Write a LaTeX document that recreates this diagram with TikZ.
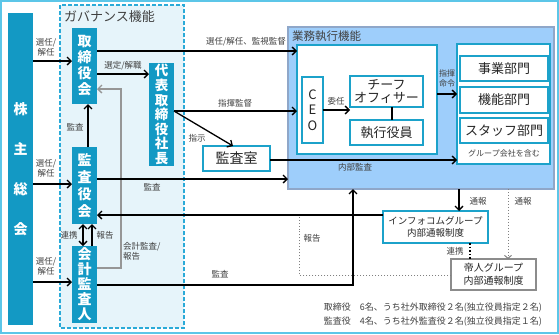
\documentclass[tikz,border=0pt]{standalone}
\usepackage{fontspec}
\setmainfont{Noto Sans CJK JP}
\usetikzlibrary{arrows.meta}
\definecolor{tealbox}{HTML}{1399C4}
\definecolor{tealline}{HTML}{1CA2CA}
\definecolor{frame}{HTML}{5CC6E8}
\definecolor{govfill}{HTML}{E6F4FA}
\definecolor{govline}{HTML}{2AAAD8}
\definecolor{bizfill}{HTML}{9ECEFB}
\definecolor{bizline}{HTML}{8FA7C9}
\definecolor{lbl}{HTML}{404040}
\definecolor{grayarrow}{HTML}{969696}
\newcommand\bx[7]{\node[#6, minimum width={(#4-#2)*1bp}, minimum height={(#5-#3)*1bp}] (#1) at ({(#2+#4)/2},{(#3+#5)/2}) {#7};}
\tikzset{
  every node/.style={inner sep=0pt, outer sep=0pt},
  tealfill/.style={fill=tealbox, text=white, font=\bfseries\fontsize{14bp}{16bp}\selectfont, align=center},
  whitebox/.style={fill=white, draw=tealline, line width=1.2bp},
  graybox/.style={fill=white, draw=gray!90, line width=1.2bp},
  lab/.style={text=lbl, font=\fontsize{8.5bp}{10bp}\selectfont, align=center},
  arr/.style={line width=1.3bp, -{Straight Barb[length=4bp,width=8bp,line width=1.3bp]}},
  dbl/.style={line width=1.3bp, {Straight Barb[length=4bp,width=8bp,line width=1.3bp]}-{Straight Barb[length=4bp,width=8bp,line width=1.3bp]}},
  garr/.style={line width=1.3bp, draw=grayarrow, -{Straight Barb[length=4bp,width=8bp,line width=1.3bp]}},
  dotg/.style={line width=1bp, draw=gray, dotted},
}
\begin{document}
\begin{tikzpicture}[x=1bp,y=-1bp]
\useasboundingbox (0,0) rectangle (559,334);
\draw[frame, line width=1.5bp] (1,1) rectangle (558,333);
% governance box
\draw[govline, fill=govfill, line width=1.2bp, dash pattern=on 4bp off 2bp] (60,5) rectangle (184,328);
\node[anchor=west, text=lbl, font=\fontsize{13bp}{15bp}\selectfont] (govt) at (64,17) {ガバナンス機能};
% business execution box
\bx{biz}{288}{27}{554}{189}{fill=bizfill, draw=bizline, line width=1.2bp}{}
\node[anchor=west, text=lbl, font=\fontsize{11.5bp}{13bp}\selectfont] (bizt) at (292,36) {業務執行機能};
\bx{wbox}{297}{45}{437}{154}{whitebox}{}
\bx{dbox}{457}{44}{550}{164}{whitebox}{}
% teal nodes
\bx{sh}{8}{13}{33}{325}{tealfill, font=\bfseries\fontsize{14bp}{40bp}\selectfont}{株\\主\\総\\会}
\bx{bod}{72}{28}{97}{104}{tealfill}{取\\締\\役\\会}
\bx{kan}{72}{147}{97}{224}{tealfill, font=\bfseries\fontsize{14bp}{17bp}\selectfont}{監\\査\\役\\会}
\bx{kai}{72}{246}{97}{323}{tealfill, font=\bfseries\fontsize{14bp}{15bp}\selectfont}{会\\計\\監\\査\\人}
\bx{pres}{149}{63}{174}{166}{tealfill, font=\bfseries\fontsize{13.5bp}{14.6bp}\selectfont}{代\\表\\取\\締\\役\\社\\長}
% white nodes
\bx{ceo}{302}{77}{323}{143}{whitebox, font=\fontsize{13bp}{15.5bp}\selectfont, align=center, text=black!85}{C\\E\\O}
\bx{chief}{350}{76}{423}{107}{whitebox, font=\fontsize{13bp}{12.5bp}\selectfont, align=center, text=black!85}{チーフ\\オフィサー}
\bx{exe}{350}{120}{423}{145}{whitebox, font=\fontsize{13bp}{15bp}\selectfont, text=black!85}{執行役員}
\bx{d1}{460}{56}{548}{81}{whitebox, font=\fontsize{13bp}{15bp}\selectfont, text=black!85}{事業部門}
\bx{d2}{460}{87}{548}{113}{whitebox, font=\fontsize{13bp}{15bp}\selectfont, text=black!85}{機能部門}
\bx{d3}{460}{118}{548}{143}{whitebox, font=\fontsize{13bp}{15bp}\selectfont, text=black!85}{スタッフ部門}
\node[lab, font=\fontsize{8bp}{10bp}\selectfont] (grp) at (504,153) {グループ会社を含む};
\bx{aud}{203}{146}{270}{171}{whitebox, font=\fontsize{14bp}{16bp}\selectfont, text=black!85}{監査室}
\bx{info}{383}{211}{488}{243}{whitebox, font=\fontsize{9.5bp}{12.5bp}\selectfont, align=center, text=black!85}{インフォコムグループ\\内部通報制度}
\bx{tei}{451}{259}{536}{290}{graybox, font=\fontsize{10bp}{13bp}\selectfont, align=center, text=black!85}{帝人グループ\\内部通報制度}
% connectors from shareholders
\draw[arr] (sh.east |- 0,61) -- (bod.west |- 0,61);
\node[lab] (l1) at (46,47) {選任/\\解任};
\draw[arr] (sh.east |- 0,184) -- (kan.west |- 0,184);
\node[lab] (l2) at (46,168) {選任/\\解任};
\draw[arr] (sh.east |- 0,282) -- (kai.west |- 0,282);
\node[lab] (l3) at (46,266) {選任/\\解任};
% governance internal
\draw[arr] (bod.east |- 0,51) -- (wbox.west |- 0,51);
\node[lab] (l4) at (246,42) {選任/解任、監視監督};
\draw[arr] (bod.east |- 0,74) -- (pres.west |- 0,74);
\node[lab] (l5) at (123,66) {選定/解職};
\draw[arr] (kan.north -| 88,0) -- (bod.south -| 88,0);
\node[lab] (l6) at (75,127) {監査};
\draw[dbl] (kan.south -| 83,0) -- (kai.north -| 83,0);
\node[lab] (l7) at (69,235) {連携};
\draw[arr] (kai.north -| 92,0) -- (kan.south -| 92,0);
\node[lab] (l8) at (105,235) {報告};
\draw[garr] (kai.east |- 0,268) -- (121,268) -- (121,89) -- (bod.east |- 0,89);
\node[lab, align=left, anchor=west] (l9) at (123,251) {会計監査/\\報告};
% president
\draw[arr] (pres.east |- 0,111) -- (wbox.west |- 0,111);
\node[lab] (l10) at (235,103) {指揮監督};
\draw[arr] (pres.east |- 0,111) -- (aud.north -| 233,0);
\node[lab] (l11) at (197,138) {指示};
\draw[arr] (aud.east |- 0,160) -- (dbox.west |- 0,160);
\node[lab] (l12) at (355,167) {内部監査};
% audit board
\draw[arr] (kan.east |- 0,179) -- (biz.west |- 0,179);
\node[lab] (l13) at (152,187) {監査};
\draw[arr] (info.west |- 0,215) -- (kan.east |- 0,215);
\draw[arr] (kai.east |- 0,285) -- (353,285) -- (biz.south -| 353,0);
\node[lab] (l14) at (220,274) {監査};
% inside biz
\draw[arr] (ceo.east |- 0,110) -- (chief.west |- 0,110);
\node[lab] (l15) at (336,101) {委任};
\draw[line width=1.3bp] (chief.south -| 392,0) -- (exe.north -| 392,0);
\draw[arr] (wbox.east |- 0,94) -- (dbox.west |- 0,94);
\node[lab, font=\fontsize{8bp}{10bp}\selectfont] (l16) at (447,78) {指揮\\命令};
% whistleblowing
\draw[arr] (biz.south -| 459,0) -- (info.north -| 459,0);
\node[lab] (l17) at (478,201) {通報};
\draw[dotg, -{Straight Barb[length=3bp,width=7bp,line width=1bp]}] (biz.south -| 508,0) -- (tei.north -| 508,0);
\node[lab] (l18) at (523,201) {通報};
\draw[line width=1.6bp, dotted] (info.south -| 470,0) -- (tei.north -| 470,0);
\node[lab] (l19) at (455,251) {連携};
\draw[dotg] (tei.west |- 0,275) -- (299,275) -- (299,215);
\node[lab] (l20) at (312,238) {報告};
% note
\node[lab, anchor=east, align=left, font=\fontsize{9bp}{14bp}\selectfont] (note) at (542,315) {取締役\quad 6名、うち社外取締役２名(独立役員指定２名)\\監査役\quad 4名、うち社外監査役２名(独立役員指定１名)};
\end{tikzpicture}
\end{document}
